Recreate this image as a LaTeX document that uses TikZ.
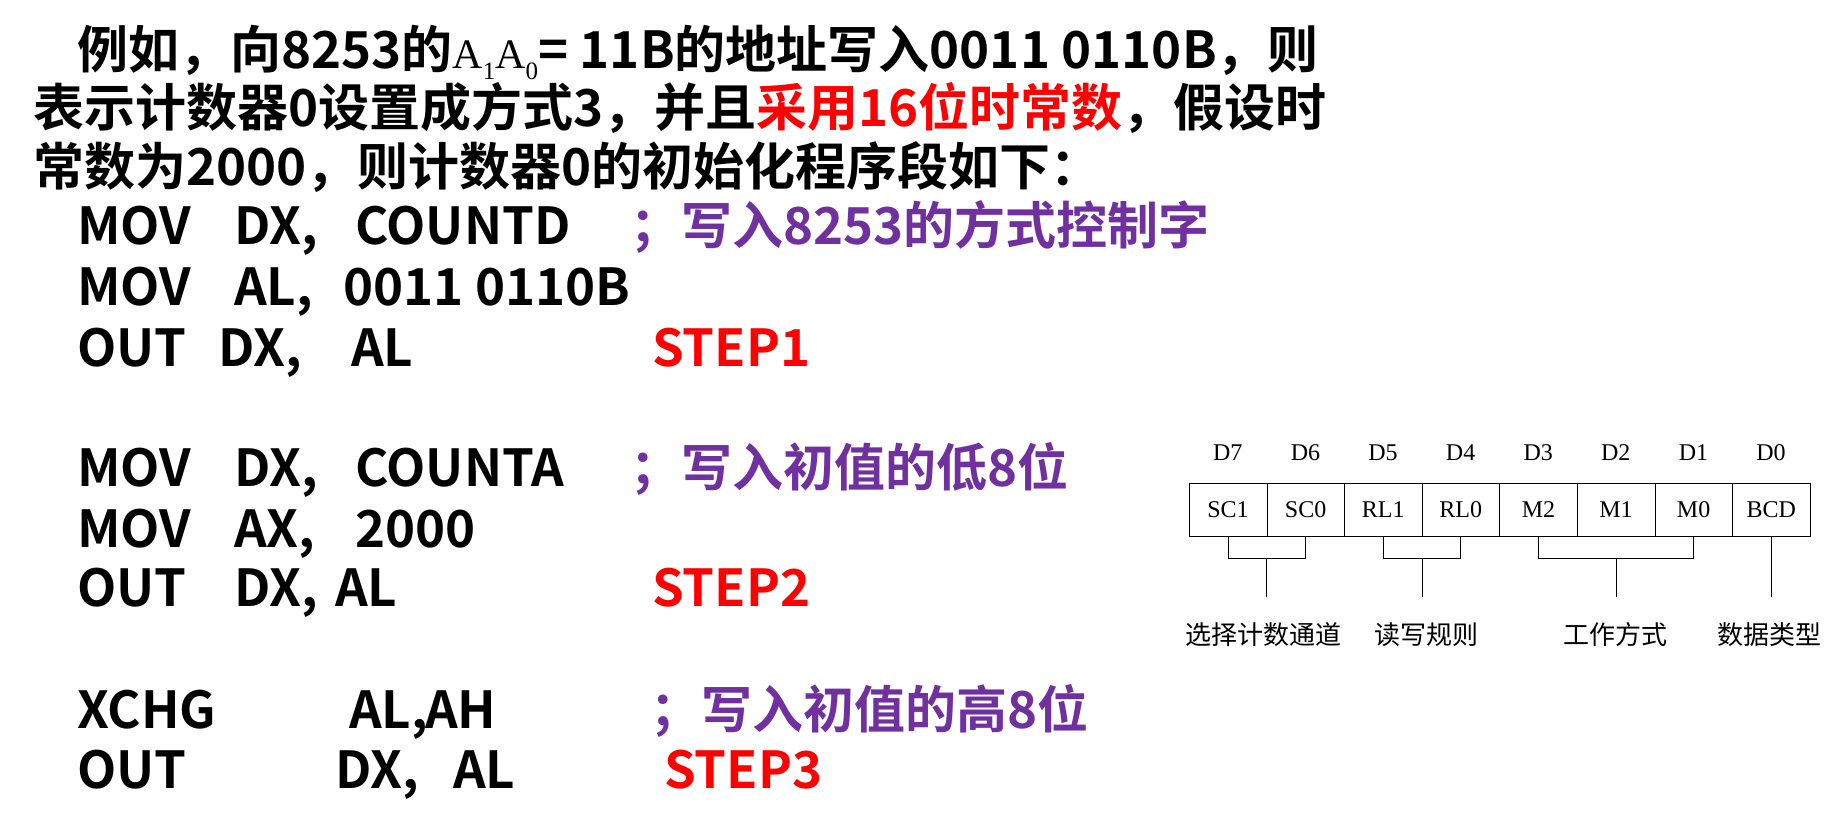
\documentclass[tikz,border=0pt]{standalone}
\usepackage{fontspec}
\usetikzlibrary{calc}
\setmainfont{Noto Sans CJK SC}[BoldFont={Noto Sans CJK SC Bold}]
\newfontfamily\tms{Liberation Serif}
\newfontfamily\cjkl{Noto Sans CJK SC}
\definecolor{pur}{RGB}{112,48,160}
\begin{document}
\begin{tikzpicture}[x=1pt,y=-1pt,
 big/.style={anchor=base west,inner sep=0pt,font=\fontsize{51}{53}\selectfont\bfseries},
 code/.style={big},
 cmt/.style={big,text=pur},
 stp/.style={big,text=red},
 cell/.style={draw,minimum width=77.6pt,minimum height=53pt,inner sep=0pt,anchor=north west,font=\fontsize{24}{26}\tms},
 dl/.style={inner sep=0pt,font=\fontsize{24}{26}\tms},
 lab/.style={inner sep=0pt,font=\fontsize{26}{28}\cjkl},
 ln/.style={line width=0.8pt}]
\useasboundingbox (0,0) rectangle (1846,826);
\node[big] (t1) at (77,69) {例如，向8253的{\mdseries\tms\fontsize{42}{42}\selectfont A\raisebox{-0.25em}{\fontsize{25}{25}\selectfont 1}A\raisebox{-0.25em}{\fontsize{25}{25}\selectfont 0}}= 11B的地址写入0011 0110B，则};
\node[big] (t2) at (33,127) {表示计数器0设置成方式3，并且\textcolor{red}{采用16位时常数}，假设时};
\node[big] (t3) at (33,186) {常数为2000，则计数器0的初始化程序段如下：};
% code
\node[code] (c1a) at (77,245) {MOV}; \node[code] (c1b) at (234,245) {DX,}; \node[code] (c1c) at (355,245) {COUNTD};
\node[cmt] (m1) at (630,245) {；写入8253的方式控制字};
\node[code] (c2a) at (77,305) {MOV}; \node[code] (c2b) at (234,305) {AL,}; \node[code] (c2c) at (343,305) {0011 0110B};
\node[code] (c3a) at (77,366) {OUT}; \node[code] (c3b) at (218,366) {DX,}; \node[code] (c3c) at (351,366) {AL};
\node[stp] (s1) at (652,366) {STEP1};
\node[code] (c4a) at (77,486) {MOV}; \node[code] (c4b) at (234,486) {DX,}; \node[code] (c4c) at (355,486) {COUNTA};
\node[cmt] (m2) at (630,486) {；写入初值的低8位};
\node[code] (c5a) at (77,547) {MOV}; \node[code] (c5b) at (234,547) {AX,}; \node[code] (c5c) at (355,547) {2000};
\node[code] (c6a) at (77,606) {OUT}; \node[code] (c6b) at (234,606) {DX,}; \node[code] (c6c) at (335,606) {AL};
\node[stp] (s2) at (652,606) {STEP2};
\node[code] (c7a) at (77,728) {XCHG}; \node[code] (c7b) at (349,728) {AL,}; \node[code] (c7c) at (425,728) {AH};
\node[cmt] (m3) at (650,728) {；写入初值的高8位};
\node[code] (c8a) at (77,788) {OUT}; \node[code] (c8b) at (335,788) {DX,}; \node[code] (c8c) at (453,788) {AL};
\node[stp] (s3) at (664,788) {STEP3};
% register
\foreach \t [count=\i from 0] in {SC1,SC0,RL1,RL0,M2,M1,M0,BCD}{
  \pgfmathtruncatemacro\d{7-\i}
  \node[cell] (r\i) at (1189+77.6*\i,483) {\t};
  \node[dl] (d\i) at (1189+77.6*\i+38.8,453) {D\d};
}
\draw[ln] (r0.south) -- ++(0,22) -| (r1.south);
\draw[ln] (r2.south) -- ++(0,22) -| (r3.south);
\draw[ln] (r4.south) -- ++(0,22) -| (r6.south);
\coordinate (e0) at ($(r0.south)!0.5!(r1.south)+(0,61)$);
\coordinate (e1) at ($(r2.south)!0.5!(r3.south)+(0,61)$);
\coordinate (e2) at ($(r5.south)+(0,61)$);
\coordinate (e3) at ($(r7.south)+(0,61)$);
\draw[ln] ($(r0.south)!0.5!(r1.south)+(0,22)$) -- (e0);
\draw[ln] ($(r2.south)!0.5!(r3.south)+(0,22)$) -- (e1);
\draw[ln] ($(r5.south)+(0,22)$) -- (e2);
\draw[ln] (r7.south) -- (e3);
\node[lab] (l0) at (1263,635) {选择计数通道};
\node[lab] (l1) at (1426,635) {读写规则};
\node[lab] (l2) at (1615,635) {工作方式};
\node[lab] (l3) at (1769,635) {数据类型};
\end{tikzpicture}
\end{document}
